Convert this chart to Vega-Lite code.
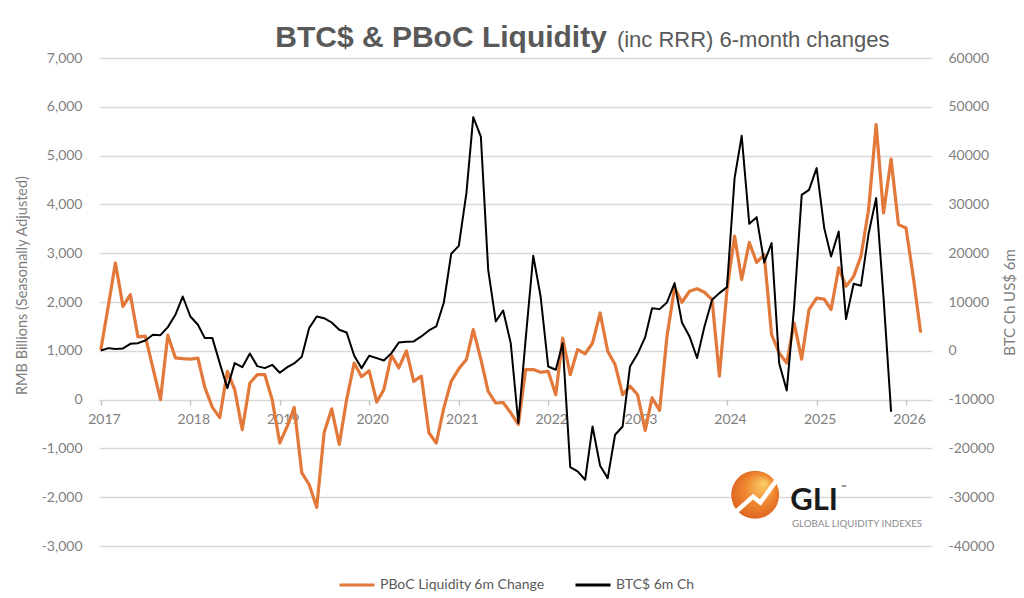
{
  "$schema": "https://vega.github.io/schema/vega-lite/v6.json",
  "width": 833,
  "height": 488,
  "autosize": "none",
  "padding": {"left": 99, "top": 58, "right": 92, "bottom": 52},
  "background": "white",
  "config": {
    "view": {"stroke": null},
    "font": "Lato",
    "locale": {"number": {"decimal": ".", "thousands": ",", "grouping": [3], "currency": ["$", ""], "minus": "-"}}
  },
  "datasets": {
    "series": [
      {"date": "2017-01-01", "pboc": 1040, "btc": 60},
      {"date": "2017-02-01", "pboc": 1950, "btc": 550},
      {"date": "2017-03-01", "pboc": 2800, "btc": 350},
      {"date": "2017-04-01", "pboc": 1910, "btc": 480},
      {"date": "2017-05-01", "pboc": 2150, "btc": 1430},
      {"date": "2017-06-01", "pboc": 1285, "btc": 1570},
      {"date": "2017-07-01", "pboc": 1300, "btc": 2120},
      {"date": "2017-08-01", "pboc": 650, "btc": 3280},
      {"date": "2017-09-01", "pboc": 0, "btc": 3210},
      {"date": "2017-10-01", "pboc": 1320, "btc": 4850},
      {"date": "2017-11-01", "pboc": 855, "btc": 7380},
      {"date": "2017-12-01", "pboc": 840, "btc": 11130},
      {"date": "2018-01-01", "pboc": 830, "btc": 7030},
      {"date": "2018-02-01", "pboc": 850, "btc": 5330},
      {"date": "2018-03-01", "pboc": 250, "btc": 2600},
      {"date": "2018-04-01", "pboc": -160, "btc": 2600},
      {"date": "2018-05-01", "pboc": -370, "btc": -2530},
      {"date": "2018-06-01", "pboc": 580, "btc": -7650},
      {"date": "2018-07-01", "pboc": 205, "btc": -2530},
      {"date": "2018-08-01", "pboc": -615, "btc": -3350},
      {"date": "2018-09-01", "pboc": 340, "btc": -550},
      {"date": "2018-10-01", "pboc": 510, "btc": -3140},
      {"date": "2018-11-01", "pboc": 510, "btc": -3550},
      {"date": "2018-12-01", "pboc": 0, "btc": -2870},
      {"date": "2019-01-01", "pboc": -890, "btc": -4500},
      {"date": "2019-02-01", "pboc": -545, "btc": -3350},
      {"date": "2019-03-01", "pboc": -160, "btc": -2600},
      {"date": "2019-04-01", "pboc": -1500, "btc": -1230},
      {"date": "2019-05-01", "pboc": -1740, "btc": 4650},
      {"date": "2019-06-01", "pboc": -2210, "btc": 7030},
      {"date": "2019-07-01", "pboc": -680, "btc": 6690},
      {"date": "2019-08-01", "pboc": -190, "btc": 5800},
      {"date": "2019-09-01", "pboc": -920, "btc": 4300},
      {"date": "2019-10-01", "pboc": 0, "btc": 3760},
      {"date": "2019-11-01", "pboc": 750, "btc": -1020},
      {"date": "2019-12-01", "pboc": 470, "btc": -3550},
      {"date": "2020-01-01", "pboc": 590, "btc": -1020},
      {"date": "2020-02-01", "pboc": -50, "btc": -1500},
      {"date": "2020-03-01", "pboc": 205, "btc": -1980},
      {"date": "2020-04-01", "pboc": 910, "btc": -480},
      {"date": "2020-05-01", "pboc": 650, "btc": 1710},
      {"date": "2020-06-01", "pboc": 1000, "btc": 1850},
      {"date": "2020-07-01", "pboc": 375, "btc": 1920},
      {"date": "2020-08-01", "pboc": 480, "btc": 2940},
      {"date": "2020-09-01", "pboc": -680, "btc": 4170},
      {"date": "2020-10-01", "pboc": -890, "btc": 4990},
      {"date": "2020-11-01", "pboc": -170, "btc": 9900},
      {"date": "2020-12-01", "pboc": 375, "btc": 19880},
      {"date": "2021-01-01", "pboc": 630, "btc": 21510},
      {"date": "2021-02-01", "pboc": 820, "btc": 32310},
      {"date": "2021-03-01", "pboc": 1435, "btc": 47880},
      {"date": "2021-04-01", "pboc": 830, "btc": 43900},
      {"date": "2021-05-01", "pboc": 170, "btc": 16600},
      {"date": "2021-06-01", "pboc": -70, "btc": 6010},
      {"date": "2021-07-01", "pboc": -60, "btc": 8260},
      {"date": "2021-08-01", "pboc": -270, "btc": 1570},
      {"date": "2021-09-01", "pboc": -510, "btc": -14800},
      {"date": "2021-10-01", "pboc": 615, "btc": 2400},
      {"date": "2021-11-01", "pboc": 615, "btc": 19500},
      {"date": "2021-12-01", "pboc": 560, "btc": 11130},
      {"date": "2022-01-01", "pboc": 580, "btc": -3210},
      {"date": "2022-02-01", "pboc": 100, "btc": -3890},
      {"date": "2022-03-01", "pboc": 1260, "btc": 1570},
      {"date": "2022-04-01", "pboc": 510, "btc": -23830},
      {"date": "2022-05-01", "pboc": 1025, "btc": -24720},
      {"date": "2022-06-01", "pboc": 940, "btc": -26430},
      {"date": "2022-07-01", "pboc": 1160, "btc": -15510},
      {"date": "2022-08-01", "pboc": 1775, "btc": -23560},
      {"date": "2022-09-01", "pboc": 990, "btc": -26090},
      {"date": "2022-10-01", "pboc": 720, "btc": -17210},
      {"date": "2022-11-01", "pboc": 100, "btc": -15510},
      {"date": "2022-12-01", "pboc": 275, "btc": -3210},
      {"date": "2023-01-01", "pboc": 100, "btc": -615},
      {"date": "2023-02-01", "pboc": -630, "btc": 2800},
      {"date": "2023-03-01", "pboc": 35, "btc": 8740},
      {"date": "2023-04-01", "pboc": -220, "btc": 8540},
      {"date": "2023-05-01", "pboc": 1300, "btc": 9900},
      {"date": "2023-06-01", "pboc": 2290, "btc": 13870},
      {"date": "2023-07-01", "pboc": 1995, "btc": 5800},
      {"date": "2023-08-01", "pboc": 2220, "btc": 2940},
      {"date": "2023-09-01", "pboc": 2270, "btc": -1500},
      {"date": "2023-10-01", "pboc": 2200, "btc": 4990},
      {"date": "2023-11-01", "pboc": 2050, "btc": 10450},
      {"date": "2023-12-01", "pboc": 480, "btc": 11820},
      {"date": "2024-01-01", "pboc": 2250, "btc": 13050},
      {"date": "2024-02-01", "pboc": 3350, "btc": 35380},
      {"date": "2024-03-01", "pboc": 2460, "btc": 44050},
      {"date": "2024-04-01", "pboc": 3220, "btc": 26020},
      {"date": "2024-05-01", "pboc": 2810, "btc": 27390},
      {"date": "2024-06-01", "pboc": 2970, "btc": 18100},
      {"date": "2024-07-01", "pboc": 1330, "btc": 22070},
      {"date": "2024-08-01", "pboc": 955, "btc": -2530},
      {"date": "2024-09-01", "pboc": 750, "btc": -8130},
      {"date": "2024-10-01", "pboc": 1570, "btc": 9000},
      {"date": "2024-11-01", "pboc": 830, "btc": 31960},
      {"date": "2024-12-01", "pboc": 1845, "btc": 32990},
      {"date": "2025-01-01", "pboc": 2080, "btc": 37430},
      {"date": "2025-02-01", "pboc": 2060, "btc": 25140},
      {"date": "2025-03-01", "pboc": 1845, "btc": 19330},
      {"date": "2025-04-01", "pboc": 2700, "btc": 24450},
      {"date": "2025-05-01", "pboc": 2320, "btc": 6490},
      {"date": "2025-06-01", "pboc": 2525, "btc": 13730},
      {"date": "2025-07-01", "pboc": 2935, "btc": 13320},
      {"date": "2025-08-01", "pboc": 3890, "btc": 23970},
      {"date": "2025-09-01", "pboc": 5635, "btc": 31290},
      {"date": "2025-10-01", "pboc": 3825, "btc": 11000},
      {"date": "2025-11-01", "pboc": 4930, "btc": -12500},
      {"date": "2025-12-01", "pboc": 3585},
      {"date": "2026-01-01", "pboc": 3515},
      {"date": "2026-02-01", "pboc": 2460},
      {"date": "2026-03-01", "pboc": 1400}
    ]
  },
  "layer": [
    {
      "layer": [
        {
          "data": {"name": "series"},
          "mark": {"type": "line", "strokeWidth": 3.2, "strokeJoin": "round", "strokeCap": "round"},
          "encoding": {
            "x": {
              "field": "date", "type": "temporal", "title": null,
              "scale": {"domain": [{"year": 2016, "month": 12, "date": 24}, {"year": 2026, "month": 4, "date": 17}], "nice": false},
              "axis": {
                "orient": "bottom", "offset": -146, "format": "%Y", "tickCount": "year",
                "grid": false, "domain": false,
                "ticks": true, "tickSize": 5, "tickColor": "#BFBFBF", "tickWidth": 1.3,
                "labelColor": "#7F7F7F", "labelFontSize": 14, "labelPadding": 7,
                "labelOffset": 3, "labelOverlap": false, "labelFlush": false
              }
            },
            "y": {
              "field": "pboc", "type": "quantitative", "title": "RMB Billions (Seasonally Adjusted)",
              "scale": {"domain": [-3000, 7000], "nice": false, "zero": false},
              "axis": {
                "orient": "left", "format": ",d", "tickCount": 10,
                "grid": true, "gridColor": "#D9D9D9", "gridWidth": 1.3,
                "domain": false, "ticks": false, "labelPadding": 17,
                "labelColor": "#7F7F7F", "labelFontSize": 14,
                "titleColor": "#7F7F7F", "titleFontSize": 14.5, "titleFontWeight": "normal",
                "titlePadding": 12, "titleY": 227
              }
            },
            "color": {
              "datum": "PBoC Liquidity 6m Change", "type": "nominal",
              "scale": {"domain": ["PBoC Liquidity 6m Change", "BTC$ 6m Ch"], "range": ["#E2783A", "#000000"]},
              "legend": {
                "orient": "none", "legendX": 239, "legendY": 508, "direction": "horizontal",
                "title": null, "symbolType": "stroke", "symbolStrokeWidth": 3, "symbolSize": 1225,
                "labelFontSize": 14, "labelColor": "#595959", "labelLimit": 400,
                "columnPadding": 24, "labelOffset": 4
              }
            }
          }
        },
        {
          "data": {"values": [{"date": "2024-04-25", "v": -1950}]},
          "mark": {
            "type": "point", "filled": true, "size": 2300, "opacity": 1, "strokeWidth": 0,
            "fill": {
              "gradient": "radial", "x1": 0.7, "y1": 0.25, "r1": 0, "x2": 0.5, "y2": 0.5, "r2": 0.6,
              "stops": [{"offset": 0, "color": "#FBD06A"}, {"offset": 0.5, "color": "#F08A32"}, {"offset": 1, "color": "#D95A1C"}]
            }
          },
          "encoding": {
            "x": {"field": "date", "type": "temporal", "title": null, "scale": {"domain": [{"year": 2016, "month": 12, "date": 24}, {"year": 2026, "month": 4, "date": 17}], "nice": false}},
            "y": {"field": "v", "type": "quantitative", "title": "RMB Billions (Seasonally Adjusted)", "scale": {"domain": [-3000, 7000], "nice": false, "zero": false}}
          }
        },
        {
          "data": {"values": [
            {"date": "2024-01-25", "v": -2356},
            {"date": "2024-04-16", "v": -1988},
            {"date": "2024-05-16", "v": -2110},
            {"date": "2024-08-04", "v": -1557}
          ]},
          "mark": {"type": "line", "color": "white", "strokeWidth": 4.5, "strokeJoin": "miter"},
          "encoding": {
            "x": {"field": "date", "type": "temporal", "title": null, "scale": {"domain": [{"year": 2016, "month": 12, "date": 24}, {"year": 2026, "month": 4, "date": 17}], "nice": false}},
            "y": {"field": "v", "type": "quantitative", "title": "RMB Billions (Seasonally Adjusted)", "scale": {"domain": [-3000, 7000], "nice": false, "zero": false}}
          }
        },
        {
          "data": {"values": [{"date": "2024-09-15", "v": -2254, "label": "GLI"}]},
          "mark": {"type": "text", "align": "left", "baseline": "alphabetic", "font": "Lato", "fontWeight": "bold", "fontSize": 31, "color": "#1A1A1A"},
          "encoding": {
            "x": {"field": "date", "type": "temporal", "title": null, "scale": {"domain": [{"year": 2016, "month": 12, "date": 24}, {"year": 2026, "month": 4, "date": 17}], "nice": false}},
            "y": {"field": "v", "type": "quantitative", "title": "RMB Billions (Seasonally Adjusted)", "scale": {"domain": [-3000, 7000], "nice": false, "zero": false}},
            "text": {"field": "label"}
          }
        },
        {
          "data": {"values": [{"date": "2025-04-10", "v": -1844, "label": "™"}]},
          "mark": {"type": "text", "align": "left", "baseline": "alphabetic", "fontSize": 7, "color": "#1A1A1A"},
          "encoding": {
            "x": {"field": "date", "type": "temporal", "title": null, "scale": {"domain": [{"year": 2016, "month": 12, "date": 24}, {"year": 2026, "month": 4, "date": 17}], "nice": false}},
            "y": {"field": "v", "type": "quantitative", "title": "RMB Billions (Seasonally Adjusted)", "scale": {"domain": [-3000, 7000], "nice": false, "zero": false}},
            "text": {"field": "label"}
          }
        },
        {
          "data": {"values": [{"date": "2024-09-22", "v": -2602, "label": "GLOBAL LIQUIDITY INDEXES"}]},
          "mark": {"type": "text", "align": "left", "baseline": "alphabetic", "fontSize": 9.8, "color": "#8C8C8C"},
          "encoding": {
            "x": {"field": "date", "type": "temporal", "title": null, "scale": {"domain": [{"year": 2016, "month": 12, "date": 24}, {"year": 2026, "month": 4, "date": 17}], "nice": false}},
            "y": {"field": "v", "type": "quantitative", "title": "RMB Billions (Seasonally Adjusted)", "scale": {"domain": [-3000, 7000], "nice": false, "zero": false}},
            "text": {"field": "label"}
          }
        },
        {
          "data": {"values": [{"date": "2022-09-18", "v": 7230, "label": "BTC$ & PBoC Liquidity"}]},
          "mark": {"type": "text", "align": "right", "baseline": "alphabetic", "dx": -5, "font": "Liberation Sans", "fontWeight": "bold", "fontSize": 30, "color": "#595959"},
          "encoding": {
            "x": {"field": "date", "type": "temporal", "title": null, "scale": {"domain": [{"year": 2016, "month": 12, "date": 24}, {"year": 2026, "month": 4, "date": 17}], "nice": false}},
            "y": {"field": "v", "type": "quantitative", "title": "RMB Billions (Seasonally Adjusted)", "scale": {"domain": [-3000, 7000], "nice": false, "zero": false}},
            "text": {"field": "label"}
          }
        },
        {
          "data": {"values": [{"date": "2022-09-18", "v": 7230, "label": "(inc RRR) 6-month changes"}]},
          "mark": {"type": "text", "align": "left", "baseline": "alphabetic", "dx": 5, "font": "Liberation Sans", "fontSize": 22, "color": "#595959"},
          "encoding": {
            "x": {"field": "date", "type": "temporal", "title": null, "scale": {"domain": [{"year": 2016, "month": 12, "date": 24}, {"year": 2026, "month": 4, "date": 17}], "nice": false}},
            "y": {"field": "v", "type": "quantitative", "title": "RMB Billions (Seasonally Adjusted)", "scale": {"domain": [-3000, 7000], "nice": false, "zero": false}},
            "text": {"field": "label"}
          }
        }
      ]
    },
    {
      "data": {"name": "series"},
      "mark": {"type": "line", "strokeWidth": 2, "strokeJoin": "round"},
      "encoding": {
        "x": {"field": "date", "type": "temporal", "title": null, "scale": {"domain": [{"year": 2016, "month": 12, "date": 24}, {"year": 2026, "month": 4, "date": 17}], "nice": false}},
        "y": {
          "field": "btc", "type": "quantitative", "title": "BTC Ch US$ 6m",
          "scale": {"domain": [-40000, 60000], "nice": false, "zero": false},
          "axis": {
            "orient": "right", "format": "d", "tickCount": 10, "grid": false,
            "domain": false, "ticks": false, "labelPadding": 16,
            "labelColor": "#7F7F7F", "labelFontSize": 14,
            "titleColor": "#7F7F7F", "titleFontSize": 15,
            "titleFontWeight": "normal", "titleAngle": 270, "titlePadding": 24
          }
        },
        "color": {"datum": "BTC$ 6m Ch", "type": "nominal"}
      }
    }
  ],
  "resolve": {"scale": {"y": "independent"}}
}
